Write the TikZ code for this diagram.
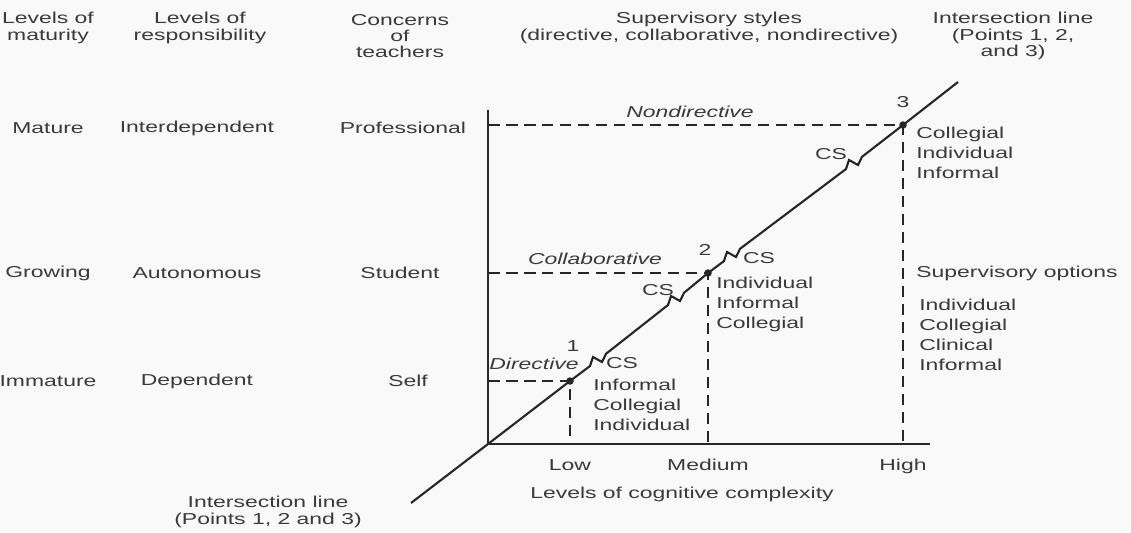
\documentclass[tikz,border=0pt]{standalone}
\usepackage{fontspec}
\setmainfont{Liberation Sans}[FakeStretch=1.45]
\usepackage{xcolor}
\usepackage{tikz}
\usetikzlibrary{positioning}
\definecolor{scan-ink}{HTML}{3A3A3A}
\definecolor{scan-line}{HTML}{262626}
\definecolor{scan-paper}{HTML}{F9F9F9}
\tikzset{cg-text/.style={font=\fontsize{9}{9.3}\selectfont, text=scan-ink, inner sep=0, align=center}}
\tikzset{cg-list/.style={font=\fontsize{9}{11.3}\selectfont, text=scan-ink, inner sep=0, align=left, anchor=north west}}
\tikzset{cg-axis/.style={line width=1.2pt, draw=scan-line}}
\tikzset{cg-guide/.style={line width=0.8pt, draw=scan-line, dash pattern=on 0.23cm off 0.13cm}}
\tikzset{cg-dot/.style={circle, fill=scan-line, inner sep=0, minimum size=0.15cm}}
\tikzset{cg-zig/.style={insert path={-- ++(3,-9) -- ++(9,5) -- ++(4,-8.2)}}}

\begin{document}
\begin{tikzpicture}[x=0.02cm, y=-0.02cm]
            \useasboundingbox (0,0) rectangle (1131,532);
            \fill[scan-paper] (0,0) rectangle (1131,532);

            % column heads
            \node[cg-text] (hdr1) at (48,28) {Levels of\\maturity};
            \node[cg-text] (hdr2) at (200,28) {Levels of\\responsibility};
            \node[cg-text] (hdr3) at (400,36) {Concerns\\of\\teachers};
            \node[cg-text] (hdr4) at (709,28) {Supervisory styles\\(directive, collaborative, nondirective)};
            \node[cg-text] (hdr5) at (1013,36) {Intersection line\\(Points 1, 2,\\and 3)};

            % rows
            \node[cg-text] (mat1) at (48,128) {Mature};
            \node[cg-text] (resp1) at (197,128) {Interdependent};
            \node[cg-text] (conc1) at (403,128) {Professional};

            \node[cg-text] (mat2) at (48,273) {Growing};
            \node[cg-text] (resp2) at (197,273) {Autonomous};
            \node[cg-text] (conc2) at (400,273) {Student};

            \node[cg-text] (mat3) at (48,381) {Immature};
            \node[cg-text] (resp3) at (197,381) {Dependent};
            \node[cg-text] (conc3) at (408,381) {Self};

            % axes
            \coordinate (orig) at (488,444);
            \coordinate (ytop) at (488,110);
            \coordinate (xend) at (930,444);
            \draw[cg-axis] (ytop) -- (orig) -- (xend);

            \node[cg-dot] (pt1) at (570,381) {};
            \node[cg-dot] (pt2) at (708,273) {};
            \node[cg-dot] (pt3) at (903,125) {};

            \coordinate (ylow) at (488,381);
            \coordinate (ymed) at (488,273);
            \coordinate (yhigh) at (488,125);
            \coordinate (xlow) at (570,444);
            \coordinate (xmed) at (708,444);
            \coordinate (xhigh) at (903,444);

            \draw[cg-guide] (ylow) -- (pt1.center) -- (xlow);
            \draw[cg-guide] (ymed) -- (pt2.center) -- (xmed);
            \draw[cg-guide] (yhigh) -- (pt3.center) -- (xhigh);

            % intersection line with breaks
            \coordinate (lineend1) at (411,503);
            \coordinate (lineend2) at (958,82);
            \coordinate (brk1) at (590,366);
            \coordinate (brk2) at (668,305);
            \coordinate (brk3) at (724,261);
            \coordinate (brk4) at (846,169);
            \draw[cg-axis] (lineend1) -- (orig) -- (pt1.center) -- (brk1) [cg-zig] -- (brk2) [cg-zig]
                -- (pt2.center) -- (brk3) [cg-zig] -- (brk4) [cg-zig] -- (pt3.center) -- (lineend2);

            % point labels
            \node[cg-text, above=0.5cm of pt1, xshift=0.06cm] (num1) {1};
            \node[cg-text, above=0.26cm of pt2, xshift=-0.06cm] (num2) {2};
            \node[cg-text, above=0.26cm of pt3] (num3) {3};

            \node[cg-text, font=\fontsize{9}{9.3}\selectfont\itshape] (sty1) at (534,364) {Directive};
            \node[cg-text, font=\fontsize{9}{9.3}\selectfont\itshape] (sty2) at (595,259) {Collaborative};
            \node[cg-text, font=\fontsize{9}{9.3}\selectfont\itshape] (sty3) at (690,112) {Nondirective};

            \node[cg-text] (cs1) at (622,363) {CS};
            \node[cg-text] (cs2) at (658,290) {CS};
            \node[cg-text] (cs3) at (759,258) {CS};
            \node[cg-text] (cs4) at (831,154) {CS};

            \node[cg-list] (lst1) at (593,379) {Informal\\Collegial\\Individual};
            \node[cg-list] (lst2) at (716,277) {Individual\\Informal\\Collegial};
            \node[cg-list] (lst3) at (916,127) {Collegial\\Individual\\Informal};

            \node[cg-text, anchor=west] (opts) at (916,273) {Supervisory options};
            \node[cg-list] (lst4) at (919,299) {Individual\\Collegial\\Clinical\\Informal};

            % bottom labels
            \node[cg-text, below=0.3cm of xlow] (lvl1) {Low};
            \node[cg-text, below=0.3cm of xmed] (lvl2) {Medium};
            \node[cg-text, below=0.3cm of xhigh] (lvl3) {High};
            \node[cg-text] (xlabel) at (682,494) {Levels of cognitive complexity};
            \node[cg-text] (lnlabel) at (268,512) {Intersection line\\(Points 1, 2 and 3)};
        \end{tikzpicture}
\end{document}
